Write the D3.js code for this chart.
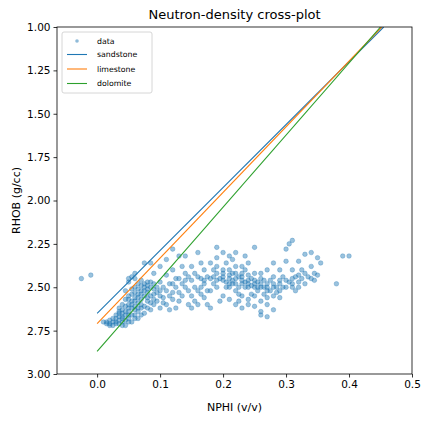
<!DOCTYPE html>
<html><head><meta charset="utf-8">
<script src="https://cdn.jsdelivr.net/npm/d3@7"></script>
<style>body{margin:0;background:#fff}text{font-family:"DejaVu Sans",sans-serif}</style>
</head><body><svg id="c" width="432" height="423"></svg>
<script>
const pts = [
[0.01,2.70],[0.015,2.70],[0.02,2.71],[0.02,2.69],[0.025,2.70],[0.03,2.71],[0.03,2.68],[0.03,2.66],[0.035,2.69],[0.035,2.65],[0.04,2.70],[0.04,2.67],[0.04,2.63],[0.045,2.66],[0.045,2.61],[0.05,2.68],[0.05,2.64],[0.05,2.60],[0.05,2.57],[0.055,2.62],[0.055,2.58],[0.06,2.66],[0.06,2.61],[0.06,2.56],[0.06,2.53],[0.065,2.59],[0.065,2.54],[0.07,2.62],[0.07,2.57],[0.07,2.52],[0.075,2.55],[0.075,2.50],[0.08,2.58],[0.08,2.53],[0.08,2.49],[0.085,2.55],[0.09,2.51],[0.09,2.60],[0.02,2.72],[0.045,2.72],[0.055,2.70],[0.065,2.68],[0.075,2.65],[0.085,2.63],[0.095,2.58],[0.1,2.55],[0.1,2.62],[0.11,2.60],[0.12,2.57],[0.035,2.62],[0.045,2.57],[0.055,2.51],[0.05,2.47],[0.06,2.45],[0.065,2.48],[0.07,2.46],[0.055,2.44],[0.045,2.52],
[0.025,2.68],[0.03,2.70],[0.04,2.68],[0.045,2.64],[0.05,2.62],[0.055,2.60],[0.06,2.58],[0.065,2.56],[0.07,2.54],[0.075,2.52],[0.08,2.51],[0.085,2.50],[0.04,2.65],[0.05,2.66],[0.06,2.63],[0.07,2.60],[0.08,2.56],[0.09,2.54],[0.035,2.67],[0.065,2.62],
[0.015,2.71],[0.025,2.72],[0.035,2.71],[0.04,2.72],[0.05,2.70],[0.06,2.68],[0.07,2.66],[0.075,2.61],[0.08,2.62],[0.085,2.59],[0.09,2.57],[0.095,2.53],[0.065,2.64],[0.055,2.66],[0.045,2.69],[0.035,2.64],[0.04,2.60],[0.05,2.55],[0.055,2.54],[0.06,2.50],[0.065,2.51],[0.07,2.49],[0.075,2.48],[0.08,2.47],[0.085,2.47],[0.09,2.48],[0.095,2.50],[0.1,2.52],[0.105,2.59],[0.115,2.63],
[0.05,2.45],[0.06,2.42],[0.075,2.36],[0.085,2.36],[0.1,2.38],[0.12,2.28],[0.09,2.42],
[0.1,2.47],[0.11,2.52],[0.11,2.43],[0.12,2.48],[0.12,2.40],[0.13,2.53],[0.13,2.45],[0.13,2.58],[0.14,2.42],[0.14,2.50],[0.15,2.46],[0.15,2.55],[0.15,2.38],[0.16,2.44],[0.16,2.52],[0.16,2.60],[0.17,2.40],[0.17,2.48],[0.17,2.56],[0.18,2.45],[0.18,2.36],[0.18,2.52],[0.19,2.42],[0.19,2.50],[0.19,2.33],[0.2,2.46],[0.2,2.55],[0.2,2.40],[0.2,2.30],[0.105,2.56],[0.125,2.62],[0.135,2.38],[0.145,2.60],[0.155,2.50],[0.165,2.36],[0.175,2.60],[0.185,2.48],[0.195,2.58],[0.14,2.32],[0.16,2.30],[0.11,2.34],[0.13,2.32],[0.15,2.62],[0.18,2.62],
[0.115,2.55],[0.125,2.45],[0.135,2.55],[0.145,2.44],[0.155,2.42],[0.165,2.54],[0.175,2.44],[0.185,2.40],[0.195,2.45],[0.135,2.48],[0.155,2.58],[0.175,2.52],[0.145,2.52],[0.165,2.45],[0.12,2.53],
[0.21,2.43],[0.21,2.50],[0.21,2.57],[0.21,2.32],[0.22,2.45],[0.22,2.52],[0.22,2.38],[0.22,2.30],[0.23,2.48],[0.23,2.42],[0.23,2.55],[0.23,2.62],[0.24,2.46],[0.24,2.50],[0.24,2.60],[0.24,2.36],[0.25,2.48],[0.25,2.55],[0.25,2.42],[0.25,2.27],[0.26,2.50],[0.26,2.45],[0.26,2.58],[0.26,2.64],[0.27,2.52],[0.27,2.48],[0.27,2.60],[0.27,2.67],[0.27,2.40],[0.28,2.50],[0.28,2.55],[0.28,2.44],[0.28,2.36],[0.29,2.48],[0.29,2.52],[0.29,2.40],[0.3,2.46],[0.3,2.50],[0.3,2.35],[0.3,2.28],[0.205,2.36],[0.215,2.48],[0.225,2.58],[0.235,2.40],[0.245,2.54],[0.255,2.50],[0.265,2.54],[0.275,2.46],[0.285,2.53],[0.295,2.44],[0.28,2.63],[0.26,2.66],[0.25,2.61],[0.24,2.57],[0.22,2.60],
[0.2,2.44],[0.205,2.47],[0.21,2.45],[0.215,2.42],[0.22,2.48],[0.225,2.44],[0.23,2.46],[0.235,2.50],[0.24,2.48],[0.245,2.45],[0.25,2.50],[0.255,2.47],[0.19,2.46],[0.185,2.44],[0.17,2.46],[0.165,2.50],[0.14,2.46],[0.125,2.50],[0.115,2.48],[0.105,2.50],
[0.205,2.50],[0.21,2.48],[0.215,2.46],[0.22,2.42],[0.225,2.50],[0.23,2.44],[0.235,2.47],[0.24,2.43],[0.245,2.49],[0.25,2.46],[0.255,2.52],[0.26,2.48],[0.265,2.50],[0.27,2.50],[0.275,2.52],[0.28,2.48],[0.285,2.50],[0.29,2.46],[0.295,2.50],[0.2,2.42],[0.21,2.40],[0.23,2.38],[0.26,2.42],[0.265,2.46],[0.225,2.54],[0.27,2.56],[0.29,2.56],[0.215,2.34],[0.235,2.32],[0.19,2.38],
[0.31,2.45],[0.31,2.40],[0.31,2.23],[0.31,2.50],[0.32,2.43],[0.32,2.35],[0.32,2.47],[0.33,2.42],[0.33,2.31],[0.33,2.48],[0.34,2.45],[0.34,2.38],[0.34,2.30],[0.35,2.43],[0.35,2.33],[0.305,2.25],[0.315,2.52],[0.325,2.40],[0.345,2.46],[0.355,2.36],
[0.305,2.47],[0.315,2.44],[0.325,2.45],[0.335,2.44],[0.345,2.42],[0.31,2.48],[0.32,2.50],
[0.38,2.48],[0.39,2.32],[0.40,2.32],[-0.025,2.45],[-0.01,2.43],[0.19,2.27]
];
const nphi = pts.map(p=>p[0]), rhob = pts.map(p=>p[1]);
const lines = [
 {name:"sandstone", color:"#1f77b4", x:[0,0.455], y:[2.65,1.0]},
 {name:"limestone", color:"#ff7f0e", x:[0,0.452], y:[2.71,1.0]},
 {name:"dolomite", color:"#2ca02c", x:[0,0.450], y:[2.87,1.0]}
];
const xTicks=[0,0.1,0.2,0.3,0.4,0.5], yTicks=[1,1.25,1.5,1.75,2,2.25,2.5,2.75,3];
const L=57,R=412,T=27,B=374;
const svg=d3.select("#c");
const x=d3.scaleLinear().domain([-0.0637,0.5]).range([L,R]);
const y=d3.scaleLinear().domain([1,3]).range([T,B]);
svg.append("defs").append("clipPath").attr("id","cl").append("rect").attr("x",L).attr("y",T).attr("width",R-L).attr("height",B-T);
const g=svg.append("g").attr("clip-path","url(#cl)");
g.selectAll("circle").data(nphi).join("circle").attr("cx",d=>x(d)).attr("cy",(d,i)=>y(rhob[i])).attr("r",2.3)
 .attr("fill","#1f77b4").attr("fill-opacity",0.45).attr("stroke","#1f77b4").attr("stroke-opacity",0.5).attr("stroke-width",0.6);
lines.forEach(l=>g.append("line").attr("x1",x(l.x[0])).attr("y1",y(l.y[0])).attr("x2",x(l.x[1])).attr("y2",y(l.y[1])).attr("stroke",l.color).attr("stroke-width",1.1));
const xa=svg.append("g").attr("transform",`translate(0,${B})`).call(d3.axisBottom(x).tickValues(xTicks).tickFormat(d3.format(".1f")).tickSize(3.5).tickPadding(3));
const ya=svg.append("g").attr("transform",`translate(${L},0)`).call(d3.axisLeft(y).tickValues(yTicks).tickFormat(d3.format(".2f")).tickSize(3.5).tickPadding(3));
[xa,ya].forEach(a=>{a.selectAll("text").attr("font-size",10.5).attr("fill","#000").style("font-family","DejaVu Sans");a.select(".domain").remove();a.selectAll("line").attr("stroke","#000").attr("stroke-width",0.8);});
svg.append("rect").attr("x",L).attr("y",T).attr("width",R-L).attr("height",B-T).attr("fill","none").attr("stroke","#000").attr("stroke-width",0.8);
svg.append("text").attr("x",(L+R)/2).attr("y",19).attr("text-anchor","middle").attr("font-size",13).text("Neutron-density cross-plot");
svg.append("text").attr("x",(L+R)/2).attr("y",411).attr("text-anchor","middle").attr("font-size",11).text("NPHI (v/v)");
svg.append("text").attr("transform",`translate(20,${(T+B)/2}) rotate(-90)`).attr("text-anchor","middle").attr("font-size",11).text("RHOB (g/cc)");
const lg=svg.append("g");
lg.append("rect").attr("x",62).attr("y",32).attr("width",90).attr("height",61).attr("rx",2).attr("fill","#fff").attr("fill-opacity",0.8).attr("stroke","#ccc").attr("stroke-width",0.8);
lg.append("circle").attr("cx",77).attr("cy",41).attr("r",1.8).attr("fill","#1f77b4").attr("fill-opacity",0.5);
lg.append("text").attr("x",97).attr("y",43.5).attr("font-size",7.8).text("data");
lines.forEach((l,i)=>{const yy=54.5+i*14.5;
 lg.append("line").attr("x1",67).attr("x2",87).attr("y1",yy).attr("y2",yy).attr("stroke",l.color).attr("stroke-width",1.1);
 lg.append("text").attr("x",97).attr("y",yy+2.7).attr("font-size",7.8).text(l.name);});
</script></body></html>
